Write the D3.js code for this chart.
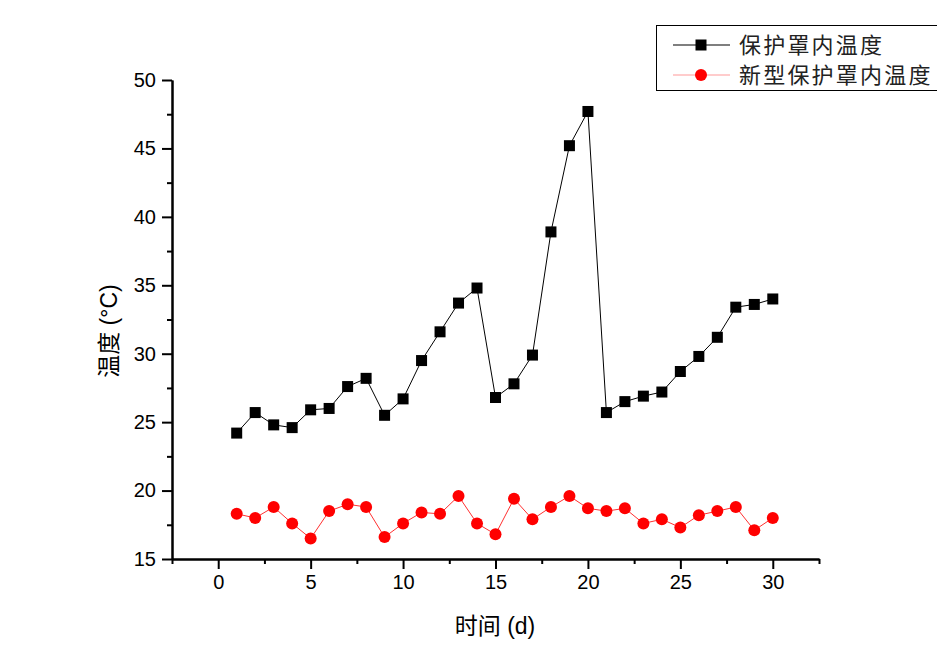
<!DOCTYPE html>
<html>
<head>
<meta charset="utf-8">
<script src="https://cdn.jsdelivr.net/npm/d3@7"></script>
<style>
html,body{margin:0;padding:0;background:#fff;}
svg{display:block;}
</style>
</head>
<body>
<svg id="chart" width="937" height="662"></svg>
<script>
const days = d3.range(1, 31);
const seriesNames = ["保护罩内温度", "新型保护罩内温度"];
const oldCover = [24.2, 25.7, 24.8, 24.6, 25.9, 26.0, 27.6, 28.2, 25.5, 26.7,
                  29.5, 31.6, 33.7, 34.8, 26.8, 27.8, 29.9, 38.9, 45.2, 47.7,
                  25.7, 26.5, 26.9, 27.2, 28.7, 29.8, 31.2, 33.4, 33.6, 34.0];
const newCover = [18.3, 18.0, 18.8, 17.6, 16.5, 18.5, 19.0, 18.8, 16.6, 17.6,
                  18.4, 18.3, 19.6, 17.6, 16.8, 19.4, 17.9, 18.8, 19.6, 18.7,
                  18.5, 18.7, 17.6, 17.9, 17.3, 18.2, 18.5, 18.8, 17.1, 18.0];
const xMajorTicks = [0, 5, 10, 15, 20, 25, 30];
const xMinorTicks = [-2.5, 2.5, 7.5, 12.5, 17.5, 22.5, 27.5, 32.5];
const yMajorTicks = [15, 20, 25, 30, 35, 40, 45, 50];
const yMinorTicks = [17.5, 22.5, 27.5, 32.5, 37.5, 42.5, 47.5];
const xTitle = "时间 (d)";
const yTitle = "温度 (°C)";

const svg = d3.select("#chart");
const x = d3.scaleLinear().domain([-2.5, 32.5]).range([172, 819]);
const y = d3.scaleLinear().domain([15, 50]).range([559, 80]);

const tickFont = "'Liberation Sans', Arial, sans-serif";
const mixFont = "'Liberation Sans', Arial, 'Noto Sans CJK SC', sans-serif";
const cjkFont = "'Noto Sans CJK SC', 'Noto Sans', sans-serif";

// Axes
const xAxisMajor = d3.axisBottom(x).tickValues(xMajorTicks).tickSize(10).tickSizeOuter(0).tickPadding(6).tickFormat(d3.format("d"));
const xAxisMinor = d3.axisBottom(x).tickValues(xMinorTicks).tickSize(5).tickSizeOuter(0).tickFormat("");
const yAxisMajor = d3.axisLeft(y).tickValues(yMajorTicks).tickSize(10).tickSizeOuter(0).tickPadding(6).tickFormat(d3.format("d"));
const yAxisMinor = d3.axisLeft(y).tickValues(yMinorTicks).tickSize(5).tickSizeOuter(0).tickFormat("");

function styleAxis(g) {
  g.selectAll("path.domain").attr("stroke", "#000").attr("stroke-width", 2);
  g.selectAll(".tick line").attr("stroke", "#000").attr("stroke-width", 2);
  g.selectAll(".tick text").attr("fill", "#000").style("font-family", tickFont).style("font-size", "20px");
}
svg.append("g").attr("transform", "translate(0,559)").call(xAxisMinor).call(styleAxis);
svg.append("g").attr("transform", "translate(0,559)").call(xAxisMajor).call(styleAxis);
svg.append("g").attr("transform", "translate(172,0)").call(yAxisMinor).call(styleAxis);
svg.append("g").attr("transform", "translate(172,0)").call(yAxisMajor).call(styleAxis);

// Axis titles
svg.append("text").attr("x", 495).attr("y", 634).attr("text-anchor", "middle")
  .style("font-family", mixFont).style("font-size", "23px").attr("fill", "#000").text(xTitle);
svg.append("text").attr("transform", "translate(117,331) rotate(-90)").attr("text-anchor", "middle")
  .style("font-family", mixFont).style("font-size", "23px").attr("fill", "#000").text(yTitle);

// Lines
const line = d3.line().x((d, i) => x(days[i])).y(d => y(d));
svg.append("path").datum(oldCover).attr("d", line).attr("fill", "none").attr("stroke", "#000").attr("stroke-width", 1);
svg.append("path").datum(newCover).attr("d", line).attr("fill", "none").attr("stroke", "#ff3030").attr("stroke-width", 1);

// Markers
const sq = 11;
svg.append("g").selectAll("rect").data(oldCover).join("rect")
  .attr("x", (d, i) => x(days[i]) - sq / 2).attr("y", d => y(d) - sq / 2)
  .attr("width", sq).attr("height", sq).attr("fill", "#000");
svg.append("g").selectAll("circle").data(newCover).join("circle")
  .attr("cx", (d, i) => x(days[i])).attr("cy", d => y(d)).attr("r", 6).attr("fill", "#ff0000");

// Legend
const lg = svg.append("g");
lg.append("rect").attr("x", 656.5).attr("y", 25.5).attr("width", 300).attr("height", 65)
  .attr("fill", "#fff").attr("stroke", "#000").attr("stroke-width", 1);
const rows = [
  {name: seriesNames[0], y: 45, color: "#000", lineColor: "#000", shape: "rect"},
  {name: seriesNames[1], y: 75, color: "#ff0000", lineColor: "#ff9a9a", shape: "circle"}
];
rows.forEach(r => {
  lg.append("line").attr("x1", 673).attr("x2", 730).attr("y1", r.y).attr("y2", r.y)
    .attr("stroke", r.lineColor).attr("stroke-width", 1.2);
  if (r.shape === "rect") {
    lg.append("rect").attr("x", 701 - 5.5).attr("y", r.y - 5.5).attr("width", 11).attr("height", 11).attr("fill", r.color);
  } else {
    lg.append("circle").attr("cx", 701).attr("cy", r.y).attr("r", 6).attr("fill", r.color);
  }
  lg.append("text").attr("x", 739).attr("y", r.y + 8)
    .style("font-family", cjkFont).style("font-size", "22px").attr("fill", "#222")
    .attr("letter-spacing", "2.2px").text(r.name);
});
</script>
</body>
</html>
